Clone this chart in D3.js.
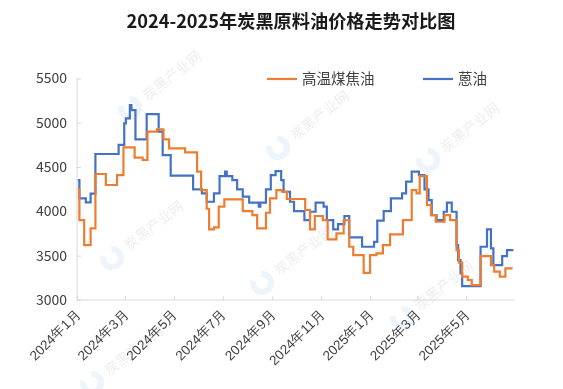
<!DOCTYPE html>
<html><head><meta charset="utf-8">
<script src="https://cdn.jsdelivr.net/npm/d3@7/dist/d3.min.js"></script>
<style>
html,body{margin:0;padding:0;background:#fff;}
svg{display:block;font-family:"Noto Sans CJK SC","Noto Sans",sans-serif;}
</style></head>
<body>
<svg id="chart" width="563" height="389"></svg>
<script>
const title = "2024-2025年炭黑原料油价格走势对比图";
const seriesNames = ["高温煤焦油", "蒽油"];
const seriesColors = ["#ED7D31", "#4472C4"];
const yTicks = [3000, 3500, 4000, 4500, 5000, 5500];
const xTickDates = ["2024-01-01","2024-03-01","2024-05-01","2024-07-01","2024-09-01","2024-11-01","2025-01-01","2025-03-01","2025-05-01"];
const xTickLabels = ["2024年1月","2024年3月","2024年5月","2024年7月","2024年9月","2024年11月","2025年1月","2025年3月","2025年5月"];

// 高温煤焦油 (change dates and values)
const coalTarDates = ["2024-01-02","2024-01-04","2024-01-10","2024-01-18","2024-01-24","2024-02-06","2024-02-20","2024-02-28","2024-03-13","2024-03-23","2024-03-29","2024-04-10","2024-04-18","2024-04-25","2024-05-15","2024-05-30","2024-06-04","2024-06-11","2024-06-14","2024-06-20","2024-06-26","2024-07-03","2024-07-26","2024-08-07","2024-08-13","2024-08-24","2024-08-29","2024-09-06","2024-09-13","2024-09-19","2024-10-12","2024-10-18","2024-10-24","2024-11-03","2024-11-09","2024-11-20","2024-11-29","2024-12-06","2024-12-11","2024-12-24","2025-01-01","2025-01-09","2025-01-17","2025-01-26","2025-02-11","2025-02-22","2025-02-28","2025-03-04","2025-03-13","2025-03-18","2025-03-24","2025-04-04","2025-04-11","2025-04-19","2025-04-22","2025-04-26","2025-05-03","2025-05-08","2025-05-19","2025-06-01","2025-06-05","2025-06-12","2025-06-19","2025-06-28"];
const coalTarValues = [4253,3902,3620,3809,4422,4298,4410,4723,4606,4580,4900,4926,4814,4712,4667,4448,4241,4030,3797,3820,4053,4136,4004,3959,3809,3985,4147,4241,4222,4140,4016,3797,3948,3902,3684,3752,3900,3601,3507,3307,3507,3526,3620,3740,3902,4241,4204,4399,4072,3959,3883,3959,3902,3564,3421,3264,3226,3169,3496,3394,3320,3264,3357,3357];

// 蒽油 (change dates and values)
const anthraceneDates = ["2024-01-02","2024-01-04","2024-01-12","2024-01-18","2024-01-24","2024-02-22","2024-02-29","2024-03-02","2024-03-07","2024-03-09","2024-03-14","2024-03-28","2024-04-12","2024-04-17","2024-04-27","2024-05-25","2024-06-05","2024-06-11","2024-06-20","2024-06-27","2024-07-04","2024-07-06","2024-07-13","2024-07-19","2024-07-26","2024-08-03","2024-08-15","2024-08-17","2024-08-24","2024-08-30","2024-09-05","2024-09-12","2024-09-15","2024-09-23","2024-09-28","2024-10-11","2024-10-18","2024-10-25","2024-11-04","2024-11-08","2024-11-16","2024-11-22","2024-11-30","2024-12-06","2024-12-22","2025-01-06","2025-01-10","2025-01-18","2025-01-27","2025-02-10","2025-02-15","2025-02-22","2025-03-03","2025-03-10","2025-03-15","2025-03-19","2025-03-25","2025-04-03","2025-04-07","2025-04-13","2025-04-19","2025-04-21","2025-04-24","2025-04-26","2025-05-19","2025-05-27","2025-06-01","2025-06-04","2025-06-15","2025-06-21","2025-06-29"];
const anthraceneValues = [4354,4147,4102,4200,4648,4750,4994,5050,5200,5144,4814,5099,4900,4636,4403,4249,4204,4109,4204,4399,4448,4399,4354,4249,4166,4098,4053,4098,4249,4410,4455,4354,4222,4109,4004,3902,3996,4098,4053,3902,3797,3857,3948,3707,3601,3657,3895,4004,4147,4204,4335,4448,4410,4249,4128,3959,3902,3996,4098,3996,3620,3451,3300,3157,3601,3797,3583,3394,3496,3564,3564];

const parse = d3.timeParse("%Y-%m-%d");
const svg = d3.select("#chart");

const x = d3.scaleTime().domain([parse("2024-01-01"), parse("2025-07-01")]).range([77, 515]);
const y = d3.scaleLinear().domain([3000, 5500]).range([300, 78.5]);

// watermarks
const wm = [[112,258],[130,108],[262,283],[278,148],[428,160],[402,318],[92,383]];
const wmG = svg.append("g").attr("opacity", 0.11);
wm.forEach(([wx, wy]) => {
  const g = wmG.append("g").attr("transform", `translate(${wx},${wy}) rotate(-38)`);
  g.append("path").attr("d", d3.arc()({innerRadius: 6, outerRadius: 12, startAngle: 0.6, endAngle: 5.6}))
    .attr("fill", "#5b9bd5");
  g.append("text").attr("x", 18).attr("y", 5).attr("font-size", 14).attr("fill", "#555")
    .text("炭黑产业网");
});

// axes
const axisColor = "#d9d9d9";
svg.append("line").attr("x1", 77).attr("x2", 77).attr("y1", 78.5).attr("y2", 300).attr("stroke", axisColor);
svg.append("line").attr("x1", 77).attr("x2", 515).attr("y1", 300).attr("y2", 300).attr("stroke", axisColor);

const yAxis = d3.axisLeft(y).tickValues(yTicks).tickSize(-4).tickPadding(10).tickFormat(d3.format("d"));
const yg = svg.append("g").attr("transform", "translate(77,0)").call(yAxis);
yg.select(".domain").remove();
yg.selectAll(".tick line").attr("stroke", axisColor);
yg.selectAll(".tick text").attr("font-size", 14).attr("fill", "#404040")
  .attr("font-family", "'Noto Sans CJK SC', sans-serif");

const xAxis = d3.axisBottom(x).tickValues(xTickDates.map(parse)).tickSize(-4)
  .tickFormat((d, i) => xTickLabels[i]);
const xg = svg.append("g").attr("transform", "translate(0,300)").call(xAxis);
xg.select(".domain").remove();
xg.selectAll(".tick line").attr("stroke", axisColor);
xg.selectAll(".tick text").attr("font-size", 13.5).attr("fill", "#404040")
  .attr("text-anchor", "end").attr("dy", null).attr("y", 0)
  .attr("transform", "translate(4,15) rotate(-45)");

// lines
const line = d3.line().x(d => x(d[0])).y(d => y(d[1])).curve(d3.curveStepAfter);
const series = [
  coalTarDates.map((d, i) => [parse(d), coalTarValues[i]]),
  anthraceneDates.map((d, i) => [parse(d), anthraceneValues[i]])
];
[1, 0].forEach(k => {
  svg.append("path").datum(series[k]).attr("d", line).attr("fill", "none")
    .attr("stroke", seriesColors[k]).attr("stroke-width", 2.2).attr("stroke-linejoin", "miter");
});

// title
svg.append("text").attr("x", 291).attr("y", 28).attr("text-anchor", "middle")
  .attr("font-size", 18.2).attr("font-weight", "bold").attr("fill", "#1a1a1a").text(title);

// legend
const legX = [267, 423];
seriesNames.forEach((n, i) => {
  svg.append("line").attr("x1", legX[i]).attr("x2", legX[i] + 30).attr("y1", 79).attr("y2", 79)
    .attr("stroke", seriesColors[i]).attr("stroke-width", 2.2);
  svg.append("text").attr("x", legX[i] + 35).attr("y", 84).attr("font-size", 14.5)
    .attr("fill", "#404040").text(n);
});
</script>
</body></html>
